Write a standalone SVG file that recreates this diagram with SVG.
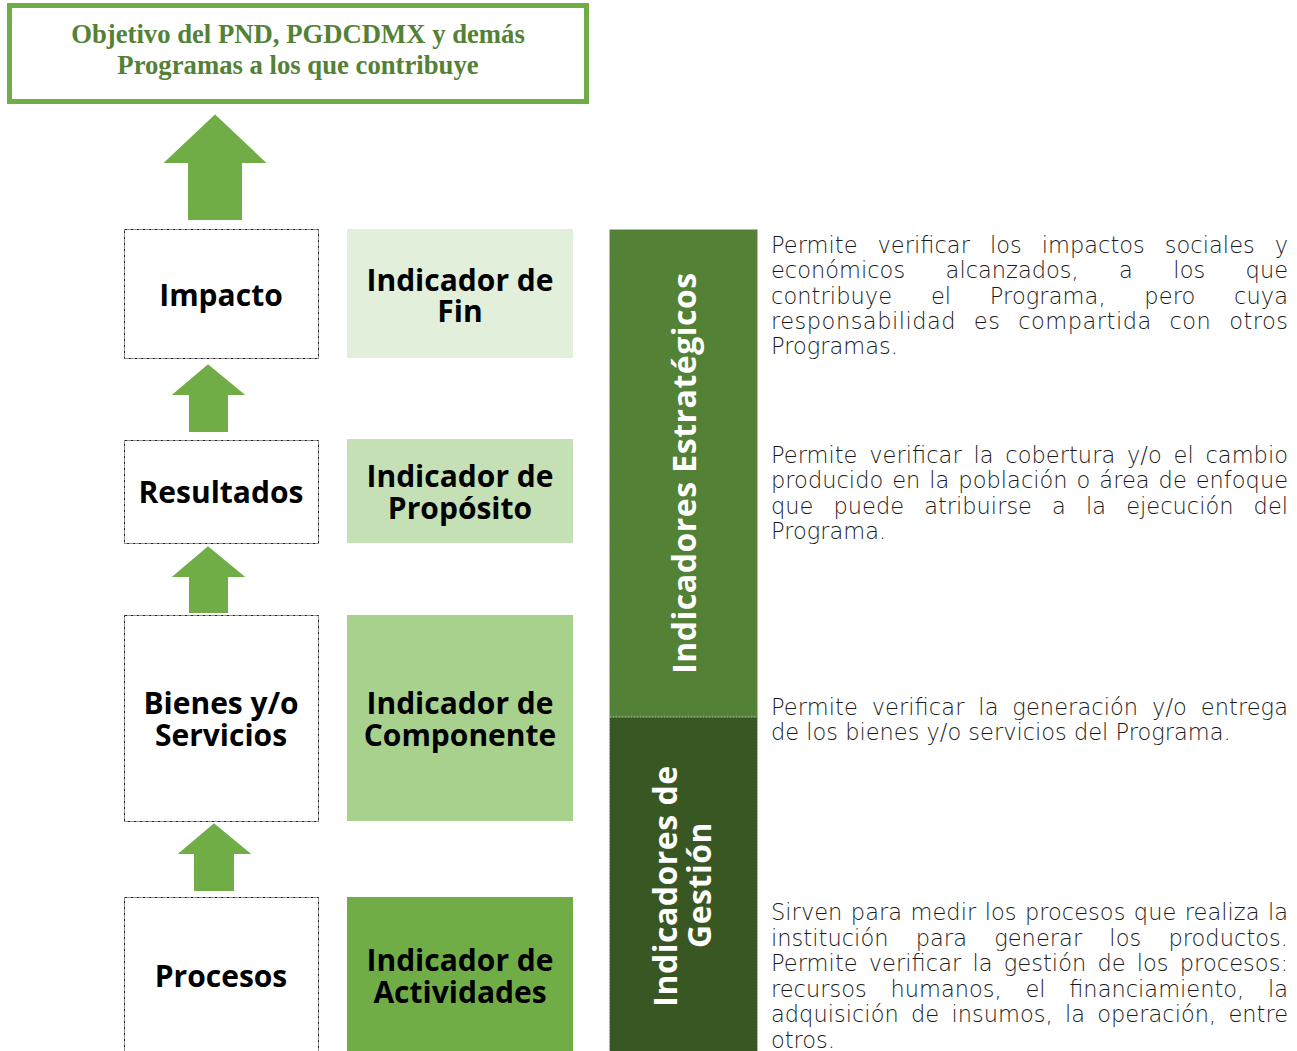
<svg xmlns="http://www.w3.org/2000/svg" width="1297" height="1051" viewBox="0 0 1297 1051">
<style>
.lvl{fill:#fff;stroke:#222;stroke-width:1;stroke-dasharray:3 1 1 1}
.lbl{font-family:"Open Sans","Liberation Sans",sans-serif;font-weight:700;font-size:30px;fill:#000;text-anchor:middle}
.desc{font-family:"DejaVu Sans","Lato",sans-serif;font-weight:200;font-size:22.5px;fill:#1a1a1a}
.vt{font-family:"Open Sans","Liberation Sans",sans-serif;font-weight:700;font-size:32px;letter-spacing:0.5px;fill:#fff;text-anchor:middle}
.arr{fill:#70AD47;stroke:#fff;stroke-width:2}
.ttl{font-family:"Liberation Serif",serif;font-weight:700;font-size:26.7px;fill:#538135;text-anchor:middle}
</style>
<rect width="1297" height="1051" fill="#fff"/>
<g id="objetivo">
<rect x="9.5" y="5.5" width="577" height="96" fill="#fff" stroke="#70AD47" stroke-width="5"/>
<text class="ttl" x="298" y="43">Objetivo del PND, PGDCDMX y demás</text>
<text class="ttl" x="298" y="74">Programas a los que contribuye</text>
</g>
<g id="connectors">
<polygon class="arr" points="215,113 269,164 243,164 243,221 187,221 187,164 161,164"/>
<polygon class="arr" points="208,363 248,396 229,396 229,433 188,433 188,396 169,396"/>
<polygon class="arr" points="208,545 248,578 229,578 229,614 188,614 188,578 169,578"/>
<polygon class="arr" points="214,822 254,855 235,855 235,892 193,892 193,855 175,855"/>
</g>
<g id="impacto">
<rect class="lvl" x="124.5" y="229.5" width="194" height="129"/>
<text class="lbl" x="221" y="306">Impacto</text>
</g>
<g id="resultados">
<rect class="lvl" x="124.5" y="440.5" width="194" height="103"/>
<text class="lbl" x="221" y="503">Resultados</text>
</g>
<g id="bienes">
<rect class="lvl" x="124.5" y="615.5" width="194" height="206"/>
<text class="lbl" x="221" y="714">Bienes y/o</text>
<text class="lbl" x="221" y="746">Servicios</text>
</g>
<g id="procesos">
<rect class="lvl" x="124.5" y="897.5" width="194" height="160"/>
<text class="lbl" x="221" y="987">Procesos</text>
</g>
<g id="ind-fin">
<rect x="347" y="229" width="226" height="129" fill="#E2EFDA"/>
<text class="lbl" x="460" y="291">Indicador de</text>
<text class="lbl" x="460" y="322">Fin</text>
</g>
<g id="ind-proposito">
<rect x="347" y="439" width="226" height="104" fill="#C5E0B4"/>
<text class="lbl" x="460" y="487">Indicador de</text>
<text class="lbl" x="460" y="519">Propósito</text>
</g>
<g id="ind-componente">
<rect x="347" y="615" width="226" height="206" fill="#A9D18E"/>
<text class="lbl" x="460" y="714">Indicador de</text>
<text class="lbl" x="460" y="746">Componente</text>
</g>
<g id="ind-actividades">
<rect x="347" y="897" width="226" height="160" fill="#70AD47"/>
<text class="lbl" x="460" y="971">Indicador de</text>
<text class="lbl" x="460" y="1003">Actividades</text>
</g>
<g id="estrategicos">
<rect x="609.5" y="229.5" width="148" height="488" fill="#538135" stroke="#bbb" stroke-width="1" stroke-dasharray="2 1"/>
<text class="vt" transform="translate(696,473) rotate(-90)">Indicadores Estratégicos</text>
</g>
<g id="gestion">
<rect x="609.5" y="717" width="148" height="340" fill="#385723" stroke="#bbb" stroke-width="1" stroke-dasharray="2 1"/>
<text class="vt" transform="translate(677,886) rotate(-90)">Indicadores de</text>
<text class="vt" transform="translate(711,885) rotate(-90)">Gestión</text>
</g>
<g id="desc-fin" class="desc">
<text x="771" y="253" word-spacing="12.7" textLength="517" lengthAdjust="spacing">Permite verificar los impactos sociales y</text>
<text x="771" y="278" word-spacing="33.3" textLength="517" lengthAdjust="spacing">económicos alcanzados, a los que</text>
<text x="771" y="304" word-spacing="31.5" textLength="517" lengthAdjust="spacing">contribuye el Programa, pero cuya</text>
<text x="771" y="329" word-spacing="10.1" textLength="517" lengthAdjust="spacing">responsabilidad es compartida con otros</text>
<text x="771" y="354">Programas.</text>
</g>
<g id="desc-proposito" class="desc">
<text x="771" y="463" word-spacing="4.6" textLength="517" lengthAdjust="spacing">Permite verificar la cobertura y/o el cambio</text>
<text x="771" y="488" word-spacing="1.8" textLength="517" lengthAdjust="spacing">producido en la población o área de enfoque</text>
<text x="771" y="514" word-spacing="13" textLength="517" lengthAdjust="spacing">que puede atribuirse a la ejecución del</text>
<text x="771" y="539">Programa.</text>
</g>
<g id="desc-componente" class="desc">
<text x="771" y="715" word-spacing="6.6" textLength="517" lengthAdjust="spacing">Permite verificar la generación y/o entrega</text>
<text x="771" y="740">de los bienes y/o servicios del Programa.</text>
</g>
<g id="desc-actividades" class="desc">
<text x="771" y="920" word-spacing="1.3" textLength="517" lengthAdjust="spacing">Sirven para medir los procesos que realiza la</text>
<text x="771" y="946" word-spacing="20" textLength="517" lengthAdjust="spacing">institución para generar los productos.</text>
<text x="771" y="971" word-spacing="3.9" textLength="517" lengthAdjust="spacing">Permite verificar la gestión de los procesos:</text>
<text x="771" y="997" word-spacing="16.5" textLength="517" lengthAdjust="spacing">recursos humanos, el financiamiento, la</text>
<text x="771" y="1022" word-spacing="5.1" textLength="517" lengthAdjust="spacing">adquisición de insumos, la operación, entre</text>
<text x="771" y="1048">otros.</text>
</g>
</svg>
